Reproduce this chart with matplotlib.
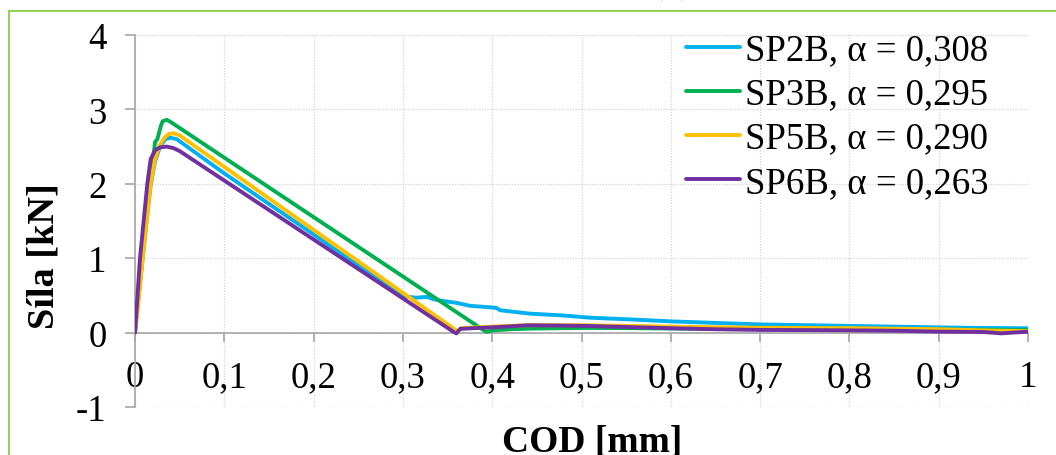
import matplotlib
matplotlib.use("Agg")
import matplotlib.pyplot as plt
from matplotlib.lines import Line2D
from matplotlib.ticker import FixedLocator, FixedFormatter

# --- data: crack mouth opening displacement [mm] vs. force [kN] ---
cod_sp2b = [0, 0.002, 0.005, 0.0086, 0.013, 0.0175, 0.0224, 0.028, 0.034, 0.039,
            0.0467, 0.10, 0.15, 0.20, 0.25, 0.297, 0.305, 0.315, 0.327, 0.334,
            0.342, 0.36, 0.375, 0.398, 0.405, 0.409, 0.442, 0.48, 0.51, 0.55,
            0.602, 0.65, 0.70, 0.75, 0.80, 0.85, 0.90, 0.95, 1.0]
force_sp2b = [0, 0.30, 0.60, 1.00, 1.50, 1.98, 2.30, 2.50, 2.60, 2.62,
              2.60, 2.14, 1.73, 1.32, 0.90, 0.51, 0.48, 0.47, 0.48, 0.45,
              0.43, 0.40, 0.36, 0.34, 0.33, 0.30, 0.255, 0.23, 0.20, 0.18,
              0.15, 0.13, 0.11, 0.10, 0.09, 0.08, 0.07, 0.062, 0.058]

cod_sp3b = [0, 0.002, 0.004, 0.009, 0.015, 0.020, 0.0224, 0.025, 0.029, 0.031,
            0.0355, 0.040, 0.392, 0.394, 0.401, 0.42, 0.442, 0.51, 0.55, 0.60,
            0.70, 0.80, 0.90, 1.0]
force_sp3b = [0, 0.30, 0.50, 1.10, 1.80, 2.30, 2.56, 2.60, 2.78, 2.84,
              2.86, 2.83, 0.02, 0.01, 0.03, 0.045, 0.054, 0.063, 0.06, 0.055,
              0.05, 0.045, 0.04, 0.035]

cod_sp5b = [0, 0.003, 0.0086, 0.0175, 0.0224, 0.027, 0.033, 0.038, 0.043, 0.050,
            0.362, 0.365, 0.40, 0.44, 0.50, 0.552, 0.60, 0.70, 0.81, 0.90,
            0.95, 1.0]
force_sp5b = [0, 0.30, 1.00, 2.00, 2.33, 2.50, 2.62, 2.67, 2.68, 2.65,
              0.01, 0.06, 0.08, 0.10, 0.10, 0.09, 0.08, 0.065, 0.058, 0.045,
              0.03, 0.02]

cod_sp6b = [0, 0.002, 0.0056, 0.0138, 0.0175, 0.0224, 0.028, 0.0355, 0.043, 0.050,
            0.358, 0.360, 0.364, 0.38, 0.40, 0.44, 0.47, 0.504, 0.55, 0.602,
            0.65, 0.70, 0.75, 0.80, 0.85, 0.90, 0.95, 0.97, 1.0]
force_sp6b = [0, 0.35, 1.00, 2.00, 2.33, 2.45, 2.49, 2.50, 2.48, 2.44,
              0.00, -0.01, 0.05, 0.06, 0.07, 0.098, 0.095, 0.09, 0.075, 0.058,
              0.045, 0.036, 0.034, 0.03, 0.025, 0.013, 0.008, -0.01, 0.013]

series_labels = ["SP2B, α = 0,308", "SP3B, α = 0,295",
                 "SP5B, α = 0,290", "SP6B, α = 0,263"]
series_colors = ["#00B0F0", "#00B050", "#FFC000", "#7030A0"]

x_ticks = [0, 0.1, 0.2, 0.3, 0.4, 0.5, 0.6, 0.7, 0.8, 0.9, 1.0]
x_tick_labels = ["0", "0,1", "0,2", "0,3", "0,4", "0,5", "0,6", "0,7", "0,8", "0,9", "1"]
y_ticks = [-1, 0, 1, 2, 3, 4]
y_tick_labels = ["-1", "0", "1", "2", "3", "4"]

# --- figure ---
plt.rcParams["font.family"] = ["Liberation Serif", "DejaVu Serif"]
W, H = 1056, 456
fig = plt.figure(figsize=(W / 100, H / 100), dpi=100)
ax = fig.add_axes([135 / W, 1 - 408 / H, (1028 - 135) / W, (408 - 36) / H])

for cod, force, lab, col in zip([cod_sp2b, cod_sp3b, cod_sp5b, cod_sp6b],
                                [force_sp2b, force_sp3b, force_sp5b, force_sp6b],
                                series_labels, series_colors):
    ax.plot(cod, force, color=col, lw=2.8, label=lab, solid_joinstyle="round",
            solid_capstyle="round", zorder=3)

ax.set_xlim(0, 1)
ax.set_ylim(-1, 4)
ax.xaxis.set_major_locator(FixedLocator(x_ticks))
ax.xaxis.set_major_formatter(FixedFormatter(x_tick_labels))
ax.yaxis.set_major_locator(FixedLocator(y_ticks))
ax.yaxis.set_major_formatter(FixedFormatter(y_tick_labels))

ax.grid(True, color="#d4d4d4", lw=0.9, ls=(0, (1, 1.2)), zorder=0)
ax.set_axisbelow(True)

for side in ("top", "right"):
    ax.spines[side].set_visible(False)
ax.spines["bottom"].set_position(("data", 0))
for side in ("left", "bottom"):
    ax.spines[side].set_color("#a6a6a6")
    ax.spines[side].set_linewidth(1.2)

ax.tick_params(axis="x", direction="out", length=6.5, width=1.2, color="#a6a6a6",
               labelsize=26.5, pad=13)
ax.tick_params(axis="y", direction="out", length=7.5, width=1.2, color="#a6a6a6",
               labelsize=26.5, pad=13)

# axis titles placed in figure pixels
fig.text(44 / W, 1 - 256 / H, "Síla [kN]", rotation=90, ha="center", va="center",
         fontsize=27.5, fontweight="bold")
fig.text(592 / W, 1 - 452 / H, "COD [mm]", ha="center", va="baseline",
         fontsize=27, fontweight="bold")

leg = ax.legend(loc="upper left", bbox_to_anchor=(686 / W, 1 - 34 / H),
                bbox_transform=fig.transFigure, frameon=False, fontsize=26.5,
                handlelength=1.47, handletextpad=0.12, labelspacing=0.26,
                borderpad=0, borderaxespad=0)
for h in leg.get_lines():
    h.set_linewidth(2.8)

# green frame around the chart area
frame_color = "#92D050"
fig.add_artist(Line2D([9 / W, 9 / W], [-0.05, 1 - 12 / H], transform=fig.transFigure,
                      color=frame_color, lw=1.4))
fig.add_artist(Line2D([9 / W, 1.05], [1 - 12 / H, 1 - 12 / H], transform=fig.transFigure,
                      color=frame_color, lw=1.4))

# panel caption sitting just above the frame
fig.text(672 / W, 1 + 8 / H, "(a)", ha="center", va="baseline", fontsize=29,
         color="#404040")

fig.savefig("out.png", dpi=100)
